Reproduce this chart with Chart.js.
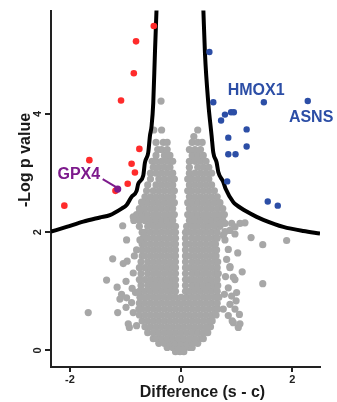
<!DOCTYPE html>
<html><head><meta charset="utf-8">
<script src="https://cdn.jsdelivr.net/npm/chart.js@4.4.1/dist/chart.umd.min.js"></script>
<style>html,body{margin:0;padding:0;background:#fff;}canvas{display:block;}</style>
</head><body>
<canvas id="c" width="337" height="402" style="width:337px;height:402px"></canvas>
<script>
// ---- data ----
const xTicks = [-2, 0, 2];
const yTicks = [0, 2, 4];

// dense grey cloud: [ -log p , [differences...] ]
const grayRows = [
  [-0.02, [-0.1, -0.02, 0.05]],
  [0.05, [-0.25, -0.15, -0.05, 0.05, 0.15, 0.2]],
  [0.12, [-0.4, -0.3, -0.2, -0.1, 0, 0.1, 0.2, 0.3]],
  [0.2, [-0.5, -0.45, -0.35, -0.25, -0.15, -0.05, 0.05, 0.15, 0.25, 0.35, 0.4]],
  [0.3, [-0.6, -0.5, -0.4, -0.3, -0.2, -0.1, 0, 0.1, 0.2, 0.3, 0.4, 0.48]],
  [0.4, [-0.65, -0.55, -0.45, -0.35, -0.25, -0.15, -0.05, 0.05, 0.15, 0.25, 0.35, 0.45, 0.53]],
  [0.5, [-0.7, -0.6, -0.5, -0.4, -0.3, -0.2, -0.1, 0, 0.1, 0.2, 0.3, 0.4, 0.5, 0.56]],
  [0.6, [-0.75, -0.65, -0.55, -0.45, -0.35, -0.25, -0.15, -0.05, 0.05, 0.15, 0.25, 0.35, 0.45, 0.55, 0.63]],
  [0.7, [-0.76, -0.7, -0.6, -0.5, -0.4, -0.3, -0.2, -0.1, 0, 0.1, 0.2, 0.3, 0.4, 0.5, 0.6, 0.66]],
  [0.8, [-0.75, -0.65, -0.55, -0.45, -0.35, -0.25, -0.15, -0.05, 0.05, 0.15, 0.25, 0.35, 0.45, 0.55, 0.65]],
  [0.9, [-0.74, -0.7, -0.6, -0.5, -0.4, -0.3, -0.2, -0.1, 0, 0.1, 0.2, 0.3, 0.4, 0.5, 0.6, 0.68]],
  [1.0, [-0.75, -0.65, -0.55, -0.45, -0.35, -0.25, -0.15, -0.1, 0.08, 0.15, 0.25, 0.35, 0.45, 0.55, 0.65]],
  [1.1, [-0.72, -0.6, -0.5, -0.4, -0.3, -0.2, -0.1, 0.08, 0.2, 0.3, 0.4, 0.5, 0.6, 0.66]],
  [1.2, [-0.75, -0.65, -0.55, -0.45, -0.35, -0.25, -0.15, -0.1, 0.08, 0.15, 0.25, 0.35, 0.45, 0.55, 0.65]],
  [1.3, [-0.72, -0.6, -0.5, -0.4, -0.3, -0.2, -0.1, 0.08, 0.2, 0.3, 0.4, 0.5, 0.6, 0.67]],
  [1.4, [-0.75, -0.65, -0.55, -0.45, -0.35, -0.25, -0.15, -0.1, 0.08, 0.15, 0.25, 0.35, 0.45, 0.55, 0.65]],
  [1.5, [-0.72, -0.6, -0.5, -0.4, -0.3, -0.2, -0.1, 0.08, 0.2, 0.3, 0.4, 0.5, 0.6, 0.66]],
  [1.6, [-0.7, -0.65, -0.55, -0.45, -0.35, -0.25, -0.15, -0.1, 0.08, 0.15, 0.25, 0.35, 0.45, 0.55, 0.63]],
  [1.7, [-0.7, -0.6, -0.5, -0.4, -0.3, -0.2, -0.1, 0.08, 0.2, 0.3, 0.4, 0.5, 0.6, 0.64]],
  [1.8, [-0.7, -0.65, -0.55, -0.45, -0.35, -0.25, -0.15, -0.1, 0.08, 0.15, 0.25, 0.35, 0.45, 0.55, 0.62]],
  [1.9, [-0.68, -0.6, -0.5, -0.4, -0.3, -0.2, -0.1, 0.08, 0.2, 0.3, 0.4, 0.5, 0.6, 0.65]],
  [2.0, [-0.7, -0.65, -0.55, -0.45, -0.35, -0.25, -0.15, -0.1, 0.08, 0.15, 0.25, 0.35, 0.45, 0.55, 0.65]],
  [2.1, [-0.75, -0.6, -0.5, -0.4, -0.3, -0.2, -0.1, 0.1, 0.2, 0.3, 0.4, 0.5, 0.6, 0.7]],
  [2.2, [-0.85, -0.75, -0.65, -0.55, -0.45, -0.35, -0.25, -0.15, 0.15, 0.25, 0.35, 0.45, 0.55, 0.65, 0.75]],
  [2.3, [-0.8, -0.7, -0.6, -0.5, -0.4, -0.3, -0.2, -0.12, 0.12, 0.2, 0.3, 0.4, 0.5, 0.6, 0.7, 0.78]],
  [2.4, [-0.75, -0.65, -0.55, -0.45, -0.35, -0.25, -0.15, 0.15, 0.25, 0.35, 0.45, 0.55, 0.65, 0.75]],
  [2.5, [-0.7, -0.6, -0.5, -0.4, -0.3, -0.2, -0.12, 0.12, 0.2, 0.3, 0.4, 0.5, 0.6, 0.7]],
  [2.6, [-0.65, -0.55, -0.45, -0.35, -0.25, -0.15, 0.15, 0.25, 0.35, 0.45, 0.55, 0.65]],
  [2.7, [-0.62, -0.5, -0.4, -0.3, -0.2, -0.12, 0.12, 0.2, 0.3, 0.4, 0.5, 0.6]],
  [2.8, [-0.6, -0.45, -0.35, -0.25, -0.15, 0.15, 0.25, 0.35, 0.45, 0.55]],
  [2.9, [-0.55, -0.4, -0.3, -0.2, -0.12, 0.12, 0.2, 0.3, 0.4, 0.5]],
  [3.0, [-0.55, -0.45, -0.35, -0.25, -0.15, 0.15, 0.25, 0.35, 0.45, 0.55]],
  [3.1, [-0.5, -0.4, -0.3, -0.2, 0.15, 0.3, 0.4, 0.5]],
  [3.2, [-0.52, -0.45, -0.35, -0.25, -0.15, 0.15, 0.25, 0.35, 0.45]],
  [3.3, [-0.45, -0.3, -0.2, 0.2, 0.3, 0.4]],
  [3.4, [-0.42, -0.35, -0.25, 0.15, 0.25, 0.35]],
  [3.52, [-0.45, -0.32, -0.25, 0.2, 0.3, 0.38]],
  [3.62, [0.23]],
  [3.73, [-0.49, -0.35, 0.3]],
  [4.22, [-0.36]]
];

// scattered grey points [difference, -log p]
const grayOutliers = [
  [-1.05, 2.11], [-0.98, 1.87], [-1.23, 1.55], [-0.97, 1.51], [-1.04, 1.47], [-1.34, 1.19],
  [-1.15, 1.07], [-0.99, 1.17], [-1.07, 0.95], [-1.10, 0.87], [-0.98, 0.89], [-0.99, 0.73],
  [-1.14, 0.64], [-0.95, 0.45], [-0.93, 0.39], [-0.86, 0.64], [-1.67, 0.64], [-0.89, 0.81],
  [-0.80, 0.42], [-0.86, 1.31], [-0.80, 1.70], [-0.74, 1.87], [-0.86, 2.26], [-0.74, 2.37],
  [-0.71, 2.51], [-0.88, 1.05], [-0.84, 1.60], [-0.82, 0.98],
  [0.97, 1.97], [1.26, 1.91], [1.47, 1.79], [1.90, 1.86], [1.02, 1.65], [1.10, 1.33],
  [1.47, 1.13], [0.94, 1.24], [0.88, 1.42], [1.00, 0.98], [0.99, 0.84], [1.05, 0.61],
  [1.03, 0.39], [0.92, 0.50], [0.70, 2.15], [0.79, 2.15], [0.91, 2.15], [1.06, 2.15],
  [1.15, 2.16], [0.76, 1.95], [0.79, 2.01], [0.88, 2.03], [0.97, 2.09], [0.79, 1.87],
  [0.85, 1.71], [0.82, 1.54], [0.88, 1.40], [0.85, 1.06], [0.91, 0.92], [0.88, 0.78],
  [0.97, 0.70], [0.85, 0.59], [0.97, 1.20], [1.06, 0.45], [0.94, 0.47], [0.80, 1.25],
  [0.78, 0.95], [0.76, 0.70]
];

const redPoints = [
  [-0.49, 5.49], [-0.81, 5.23], [-0.85, 4.69], [-1.08, 4.23], [-0.75, 3.41], [-1.65, 3.22],
  [-0.89, 3.16], [-0.83, 3.01], [-0.96, 2.82], [-1.18, 2.70], [-2.10, 2.45]
];
const bluePoints = [
  [0.51, 5.05], [0.58, 4.20], [1.49, 4.20], [2.28, 4.22], [0.79, 3.99], [0.90, 4.03],
  [0.95, 4.03], [0.72, 3.89], [1.18, 3.74], [0.85, 3.60], [1.18, 3.45], [0.85, 3.32],
  [0.98, 3.32], [0.83, 2.86], [1.56, 2.52], [1.74, 2.45]
];
const gpx4Point = [[-1.14, 2.73]];
const gpx4Leader = [[-1.41, 2.90], [-1.16, 2.76]];

// significance threshold curves
const leftCurve = [
  [-2.34, 2.01], [-2.06, 2.09], [-1.76, 2.18], [-1.46, 2.25], [-1.28, 2.29], [-1.07, 2.40],
  [-0.98, 2.46], [-0.89, 2.60], [-0.80, 2.70], [-0.77, 2.82], [-0.68, 2.96], [-0.65, 3.18],
  [-0.59, 3.35], [-0.56, 3.63], [-0.53, 3.80], [-0.50, 4.19], [-0.47, 5.03], [-0.44, 5.80]
];
const rightCurve = [
  [0.40, 5.80], [0.43, 5.03], [0.49, 4.19], [0.55, 3.63], [0.58, 3.35], [0.64, 3.18],
  [0.67, 3.02], [0.76, 2.85], [0.80, 2.74], [0.94, 2.51], [1.00, 2.46], [1.18, 2.35],
  [1.36, 2.26], [1.48, 2.21], [1.84, 2.09], [2.20, 2.02], [2.50, 1.98]
];

const geneLabels = ['HMOX1', 'ASNS', 'GPX4'];
const geneLabelX = [1.35, 2.34, -1.84];
const geneLabelY = [4.39, 3.94, 2.97];

const xTitle = 'Difference (s - c)';
const yTitle = '-Log p value';

// ---- styles ----
const FONT = '"Liberation Sans", Arial, Helvetica, sans-serif';
const GRAY = '#a7a7a7', RED = '#ff2b2b', BLUE = '#2c4ea6', PURPLE = '#7d1a8c', AXIS = '#222';
const labelColors = [BLUE, BLUE, PURPLE];

const toXY = arr => arr.map(([x, y]) => ({x, y}));
const grayData = grayRows.flatMap(([y, xs]) => xs.map(x => ({x, y}))).concat(toXY(grayOutliers));

const annot = {
  id: 'annot',
  afterDatasetsDraw(chart) {
    const {ctx, scales: {x, y}} = chart;
    ctx.save();
    ctx.font = 'bold 16px ' + FONT;
    ctx.textAlign = 'center';
    ctx.textBaseline = 'middle';
    geneLabels.forEach((t, i) => {
      ctx.fillStyle = labelColors[i];
      ctx.fillText(t, x.getPixelForValue(geneLabelX[i]), y.getPixelForValue(geneLabelY[i]));
    });
    ctx.restore();
  },
  afterDraw(chart) {
    const ctx = chart.ctx;
    ctx.save();
    ctx.fillStyle = '#1a1a1a';
    ctx.font = 'bold 16px ' + FONT;
    ctx.textAlign = 'center';
    ctx.textBaseline = 'middle';
    ctx.fillText(xTitle, 202.5, 393);
    ctx.translate(26, 160);
    ctx.rotate(-Math.PI / 2);
    ctx.fillText(yTitle, 0, 0);
    ctx.restore();
  }
};

new Chart(document.getElementById('c'), {
  type: 'scatter',
  data: {
    datasets: [
      {data: toXY(gpx4Point), backgroundColor: PURPLE, pointRadius: 3.6, borderWidth: 0, order: 0},
      {data: toXY(redPoints), backgroundColor: RED, pointRadius: 3.3, borderWidth: 0, order: 1},
      {data: toXY(bluePoints), backgroundColor: BLUE, pointRadius: 3.2, borderWidth: 0, order: 1},
      {data: toXY(gpx4Leader), showLine: true, borderColor: PURPLE, borderWidth: 2, pointRadius: 0, order: 1},
      {data: toXY(leftCurve), showLine: true, borderColor: '#000', borderWidth: 4, pointRadius: 0, cubicInterpolationMode: 'monotone', order: 2},
      {data: toXY(rightCurve), showLine: true, borderColor: '#000', borderWidth: 4, pointRadius: 0, cubicInterpolationMode: 'monotone', order: 2},
      {data: grayData, backgroundColor: GRAY, pointRadius: 3.6, borderWidth: 0, order: 3}
    ]
  },
  options: {
    responsive: false,
    devicePixelRatio: 1,
    animation: false,
    events: [],
    layout: {padding: {left: 0, right: 17, top: 7, bottom: 0}},
    plugins: {legend: {display: false}, tooltip: {enabled: false}},
    scales: {
      x: {
        type: 'linear', min: -2.34, max: 2.5,
        afterBuildTicks: s => { s.ticks = xTicks.map(v => ({value: v})); },
        afterFit: s => { s.height = 35; },
        ticks: {font: {family: FONT, size: 11, weight: 'bold'}, color: AXIS, padding: 1, maxRotation: 0, autoSkip: false, callback: v => String(v)},
        grid: {drawOnChartArea: false, drawTicks: true, tickLength: 5, color: AXIS, lineWidth: 2},
        border: {display: true, color: AXIS, width: 2}
      },
      y: {
        type: 'linear', min: -0.28, max: 5.75,
        afterBuildTicks: s => { s.ticks = yTicks.map(v => ({value: v})); },
        afterFit: s => { s.width = 51; },
        ticks: {font: {family: FONT, size: 11, weight: 'bold'}, color: AXIS, padding: 4, minRotation: 90, maxRotation: 90, crossAlign: 'center', autoSkip: false, callback: v => String(v)},
        grid: {drawOnChartArea: false, drawTicks: true, tickLength: 6, color: AXIS, lineWidth: 2},
        border: {display: true, color: AXIS, width: 2}
      }
    }
  },
  plugins: [annot]
});
</script>
</body></html>
